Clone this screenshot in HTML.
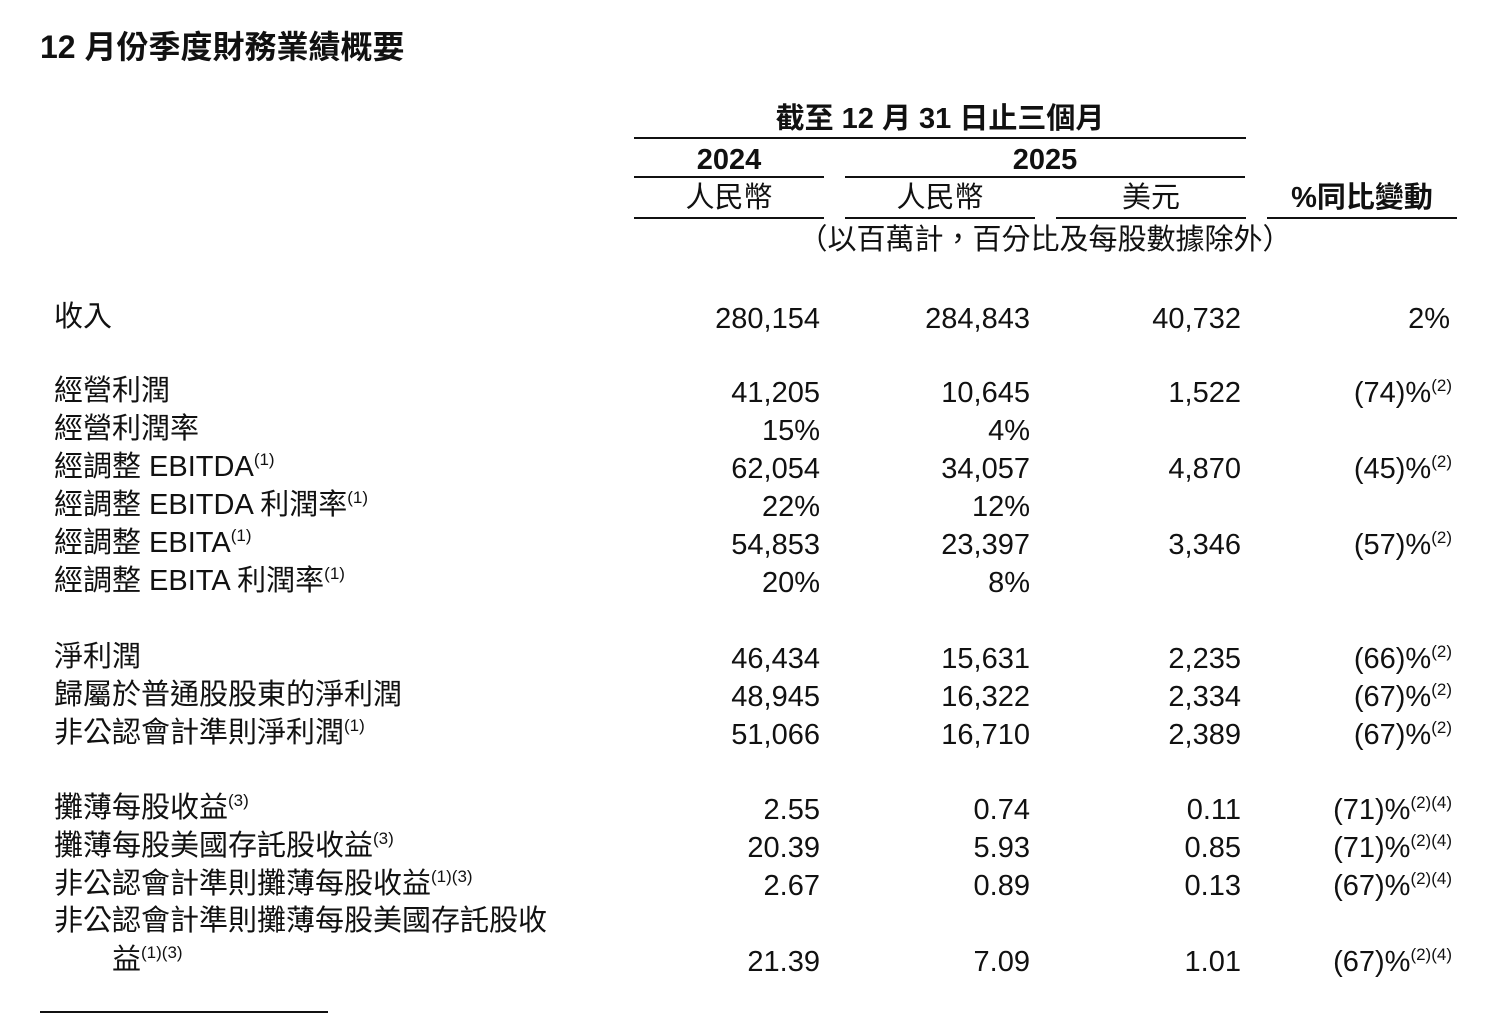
<!DOCTYPE html>
<html><head><meta charset="utf-8"><style>
body{margin:0;width:1510px;height:1028px;background:#fff;position:relative;overflow:hidden;font-family:"Liberation Sans","Noto Sans CJK TC",sans-serif;color:#111}
.t{position:absolute;white-space:nowrap;line-height:34px;font-size:29px;margin-top:2px}
.r{text-align:right}
.c{text-align:center}
.b{font-weight:bold}
sup{font-size:17px;vertical-align:0;position:relative;top:-11px}
.l{position:absolute;height:2px;background:#111}
</style></head><body>
<div class="t b" style="left:40px;top:28px;font-size:32px">12 月份季度財務業績概要</div>
<div class="t b c" style="left:634px;width:612px;top:100px">截至 12 月 31 日止三個月</div>
<div class="l" style="left:634px;width:612px;top:137px"></div>
<div class="t b c" style="left:634px;width:190px;top:141px">2024</div>
<div class="t b c" style="left:845px;width:400px;top:141px">2025</div>
<div class="l" style="left:634px;width:190px;top:176px"></div>
<div class="l" style="left:845px;width:400px;top:176px"></div>
<div class="t c" style="left:634px;width:190px;top:179px">人民幣</div>
<div class="t c" style="left:845px;width:190px;top:179px">人民幣</div>
<div class="t c" style="left:1056px;width:190px;top:179px">美元</div>
<div class="t b c" style="left:1267px;width:190px;top:179px">%同比變動</div>
<div class="l" style="left:634px;width:190px;top:217px"></div>
<div class="l" style="left:845px;width:190px;top:217px"></div>
<div class="l" style="left:1056px;width:190px;top:217px"></div>
<div class="l" style="left:1267px;width:190px;top:217px"></div>
<div class="t c" style="left:760px;width:570px;top:221px">（以百萬計，百分比及每股數據除外）</div>

<div class="t" style="left:54px;top:298px">收入</div>
<div class="t r" style="left:600px;width:220px;top:300px">280,154</div>
<div class="t r" style="left:810px;width:220px;top:300px">284,843</div>
<div class="t r" style="left:1021px;width:220px;top:300px">40,732</div>
<div class="t r" style="left:1200px;width:250px;top:300px">2%</div>

<div class="t" style="left:54px;top:372px">經營利潤</div>
<div class="t r" style="left:600px;width:220px;top:374px">41,205</div>
<div class="t r" style="left:810px;width:220px;top:374px">10,645</div>
<div class="t r" style="left:1021px;width:220px;top:374px">1,522</div>
<div class="t r" style="left:1200px;width:252px;top:374px">(74)%<sup>(2)</sup></div>

<div class="t" style="left:54px;top:410px">經營利潤率</div>
<div class="t r" style="left:600px;width:220px;top:412px">15%</div>
<div class="t r" style="left:810px;width:220px;top:412px">4%</div>

<div class="t" style="left:54px;top:448px">經調整 EBITDA<sup>(1)</sup></div>
<div class="t r" style="left:600px;width:220px;top:450px">62,054</div>
<div class="t r" style="left:810px;width:220px;top:450px">34,057</div>
<div class="t r" style="left:1021px;width:220px;top:450px">4,870</div>
<div class="t r" style="left:1200px;width:252px;top:450px">(45)%<sup>(2)</sup></div>

<div class="t" style="left:54px;top:486px">經調整 EBITDA 利潤率<sup>(1)</sup></div>
<div class="t r" style="left:600px;width:220px;top:488px">22%</div>
<div class="t r" style="left:810px;width:220px;top:488px">12%</div>

<div class="t" style="left:54px;top:524px">經調整 EBITA<sup>(1)</sup></div>
<div class="t r" style="left:600px;width:220px;top:526px">54,853</div>
<div class="t r" style="left:810px;width:220px;top:526px">23,397</div>
<div class="t r" style="left:1021px;width:220px;top:526px">3,346</div>
<div class="t r" style="left:1200px;width:252px;top:526px">(57)%<sup>(2)</sup></div>

<div class="t" style="left:54px;top:562px">經調整 EBITA 利潤率<sup>(1)</sup></div>
<div class="t r" style="left:600px;width:220px;top:564px">20%</div>
<div class="t r" style="left:810px;width:220px;top:564px">8%</div>

<div class="t" style="left:54px;top:638px">淨利潤</div>
<div class="t r" style="left:600px;width:220px;top:640px">46,434</div>
<div class="t r" style="left:810px;width:220px;top:640px">15,631</div>
<div class="t r" style="left:1021px;width:220px;top:640px">2,235</div>
<div class="t r" style="left:1200px;width:252px;top:640px">(66)%<sup>(2)</sup></div>

<div class="t" style="left:54px;top:676px">歸屬於普通股股東的淨利潤</div>
<div class="t r" style="left:600px;width:220px;top:678px">48,945</div>
<div class="t r" style="left:810px;width:220px;top:678px">16,322</div>
<div class="t r" style="left:1021px;width:220px;top:678px">2,334</div>
<div class="t r" style="left:1200px;width:252px;top:678px">(67)%<sup>(2)</sup></div>

<div class="t" style="left:54px;top:714px">非公認會計準則淨利潤<sup>(1)</sup></div>
<div class="t r" style="left:600px;width:220px;top:716px">51,066</div>
<div class="t r" style="left:810px;width:220px;top:716px">16,710</div>
<div class="t r" style="left:1021px;width:220px;top:716px">2,389</div>
<div class="t r" style="left:1200px;width:252px;top:716px">(67)%<sup>(2)</sup></div>

<div class="t" style="left:54px;top:789px">攤薄每股收益<sup>(3)</sup></div>
<div class="t r" style="left:600px;width:220px;top:791px">2.55</div>
<div class="t r" style="left:810px;width:220px;top:791px">0.74</div>
<div class="t r" style="left:1021px;width:220px;top:791px">0.11</div>
<div class="t r" style="left:1200px;width:252px;top:791px">(71)%<sup>(2)(4)</sup></div>

<div class="t" style="left:54px;top:827px">攤薄每股美國存託股收益<sup>(3)</sup></div>
<div class="t r" style="left:600px;width:220px;top:829px">20.39</div>
<div class="t r" style="left:810px;width:220px;top:829px">5.93</div>
<div class="t r" style="left:1021px;width:220px;top:829px">0.85</div>
<div class="t r" style="left:1200px;width:252px;top:829px">(71)%<sup>(2)(4)</sup></div>

<div class="t" style="left:54px;top:865px">非公認會計準則攤薄每股收益<sup>(1)(3)</sup></div>
<div class="t r" style="left:600px;width:220px;top:867px">2.67</div>
<div class="t r" style="left:810px;width:220px;top:867px">0.89</div>
<div class="t r" style="left:1021px;width:220px;top:867px">0.13</div>
<div class="t r" style="left:1200px;width:252px;top:867px">(67)%<sup>(2)(4)</sup></div>

<div class="t" style="left:54px;top:902px">非公認會計準則攤薄每股美國存託股收</div>
<div class="t" style="left:112px;top:941px">益<sup>(1)(3)</sup></div>
<div class="t r" style="left:600px;width:220px;top:943px">21.39</div>
<div class="t r" style="left:810px;width:220px;top:943px">7.09</div>
<div class="t r" style="left:1021px;width:220px;top:943px">1.01</div>
<div class="t r" style="left:1200px;width:252px;top:943px">(67)%<sup>(2)(4)</sup></div>

<div class="l" style="left:40px;width:288px;top:1011px"></div>
</body></html>
